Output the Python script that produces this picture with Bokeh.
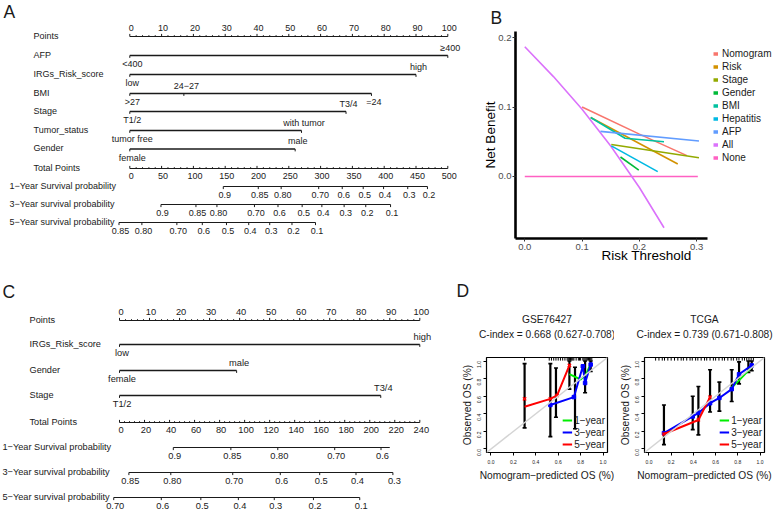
import math
from bokeh.plotting import figure
from bokeh.layouts import row, column
from bokeh.models import (Range1d, Title, Legend, LegendItem, FixedTicker,
                          PrintfTickFormatter, Slope)
from bokeh.core.properties import value
from bokeh.embed import file_html
from bokeh.resources import INLINE

FONT = "Liberation Sans"
INK = "#1a1a1a"


def fz(v):
    return f"{v:.2f}px"


# ---------------------------------------------------------------- Panel A data
A_point_ticks = [0, 10, 20, 30, 40, 50, 60, 70, 80, 90, 100]
A_vars = ["AFP", "IRGs_Risk_score", "BMI", "Stage", "Tumor_status", "Gender"]
A_levels = [["<400", "≥400"], ["low", "high"], [">27", "24−27", "=24"],
            ["T1/2", "T3/4"], ["tumor free", "with tumor"], ["female", "male"]]
A_level_points = [[0, 100], [0, 90], [0, 17, 76], [0, 68], [0, 54], [0, 52]]
A_total_ticks = [0, 50, 100, 150, 200, 250, 300, 350, 400, 450, 500]
A_surv_names = ["1−Year Survival probability", "3−Year survival probability",
                "5−Year survival probability"]
A_surv_labels = [["0.9", "0.85", "0.80", "0.70", "0.6", "0.5", "0.4", "0.3", "0.2"],
                 ["0.9", "0.85", "0.80", "0.70", "0.6", "0.5", "0.4", "0.3", "0.2", "0.1"],
                 ["0.85", "0.80", "0.70", "0.6", "0.5", "0.4", "0.3", "0.2", "0.1"]]
A_surv_total = [[147, 202, 238, 297, 334, 367, 399, 437, 468],
                [49, 104, 137, 196, 233, 271, 302, 337, 371, 410],
                [-17, 19, 74, 114, 152, 187, 220, 255, 292]]

# ---------------------------------------------------------------- Panel C data
C_point_ticks = [0, 10, 20, 30, 40, 50, 60, 70, 80, 90, 100]
C_vars = ["IRGs_Risk_score", "Gender", "Stage"]
C_levels = [["low", "high"], ["female", "male"], ["T1/2", "T3/4"]]
C_level_points = [[0, 100], [0, 39], [0, 87]]
C_total_ticks = [0, 20, 40, 60, 80, 100, 120, 140, 160, 180, 200, 220, 240]
C_surv_names = A_surv_names
C_surv_labels = [["0.9", "0.85", "0.80", "0.70", "0.6"],
                 ["0.85", "0.80", "0.70", "0.6", "0.5", "0.4", "0.3"],
                 ["0.70", "0.6", "0.5", "0.4", "0.3", "0.2", "0.1"]]
C_surv_total = [[43, 89, 126.5, 172, 209],
                [7.5, 41, 90.5, 128.5, 160, 189, 218.5],
                [-4.6, 33.4, 65, 95, 123.7, 155, 192]]
C_surv_end = [216, 218.5, 192]

# ---------------------------------------------------------------- Panel B data
B_names = ["Nomogram", "Risk", "Stage", "Gender", "BMI", "Hepatitis", "AFP", "All", "None"]
B_colors = ["#F8766D", "#D39200", "#93AA00", "#00BA38", "#00C19F", "#00B9E3",
            "#619CFF", "#DB72FB", "#FF61C3"]
B_x = [[0.10, 0.20, 0.283], [0.115, 0.267], [0.151, 0.304], [0.167, 0.199],
       [0.115, 0.175, 0.243], [0.151, 0.232], [0.132, 0.304],
       [0.0, 0.05, 0.10, 0.15, 0.20, 0.243], [0.0, 0.302]]
B_y = [[0.100, 0.061, 0.030], [0.085, 0.018], [0.046, 0.027], [0.028, 0.009],
       [0.085, 0.055, 0.050], [0.044, 0.007], [0.065, 0.051],
       [0.187, 0.144, 0.097, 0.044, -0.016, -0.074], [0.0, 0.0]]
B_xticks = [0.0, 0.1, 0.2, 0.3]
B_yticks = [0.0, 0.1, 0.2]

# ---------------------------------------------------------------- Panel D data
D_ticks = [0.0, 0.2, 0.4, 0.6, 0.8, 1.0]
D1_title = ["GSE76427", "C-index = 0.668 (0.627-0.708)"]
D1_err_x = [0.30, 0.53, 0.58, 0.70, 0.75, 0.84, 0.89]
D1_err_lo = [0.24, 0.14, 0.36, 0.68, 0.23, 0.64, 0.88]
D1_err_hi = [0.97, 0.97, 0.92, 1.00, 0.93, 1.00, 1.00]
D1_g_x = [0.70, 0.80, 0.85, 0.89]
D1_g_y = [0.85, 0.79, 0.85, 0.97]
D1_b_x = [0.53, 0.74, 0.82, 0.84, 0.89]
D1_b_y = [0.50, 0.59, 0.94, 0.75, 0.96]
D1_r_x = [0.30, 0.53, 0.59, 0.70]
D1_r_y = [0.48, 0.57, 0.61, 0.95]
D1_rx_y = [0.57, 0.57, 0.61, 0.95]
D1_rug = [0.30, 0.52, 0.54, 0.56, 0.58, 0.60, 0.62, 0.64, 0.66, 0.68, 0.69, 0.70,
          0.71, 0.72, 0.73, 0.74, 0.76, 0.78, 0.79, 0.80, 0.82, 0.83, 0.84, 0.85,
          0.86, 0.87, 0.88, 0.89, 0.90]

D2_title = ["TCGA", "C-index = 0.739 (0.671-0.808)"]
D2_err_x = [0.135, 0.394, 0.445, 0.55, 0.634, 0.745, 0.811, 0.895, 0.925]
D2_err_lo = [0.05, 0.22, 0.16, 0.42, 0.43, 0.54, 0.74, 0.87, 0.89]
D2_err_hi = [0.50, 0.60, 0.71, 0.90, 0.76, 0.90, 0.99, 1.00, 1.00]
D2_g_x = [0.745, 0.811, 0.925]
D2_g_y = [0.70, 0.78, 0.93]
D2_b_x = [0.135, 0.394, 0.445, 0.55, 0.634, 0.745, 0.811, 0.925]
D2_b_y = [0.18, 0.37, 0.41, 0.52, 0.58, 0.68, 0.85, 0.95]
D2_r_x = [0.135, 0.445, 0.55]
D2_r_y = [0.17, 0.33, 0.59]
D2_rx_y = [0.17, 0.33, 0.59]
D2_rug = [0.06, 0.09, 0.12, 0.14, 0.17, 0.20, 0.23, 0.26, 0.29, 0.31, 0.34, 0.37,
          0.39, 0.42, 0.44, 0.47, 0.50, 0.52, 0.55, 0.58, 0.60, 0.63, 0.66, 0.68,
          0.71, 0.74, 0.76, 0.79, 0.81, 0.84, 0.86, 0.88, 0.90, 0.92, 0.94]

# ---------------------------------------------------------------- sizes
HR1, HR2 = 268, 243
WA, WB = 480, 297
WC, WD1, WD2 = 452, 162, 163


def seg(p, x0, y0, x1, y1, w=1.0):
    p.segment(x0=x0, y0=y0, x1=x1, y1=y1, line_color=INK, line_width=w)


def txt(p, xs, ys, texts, size, align="center", baseline="middle", dx=0, color=INK):
    p.text(x=xs, y=ys, text=texts, text_font=value(FONT), text_font_size=value(fz(size)),
           text_align=align, text_baseline=baseline, text_color=color, x_offset=dx)


def blank_fig(width, height, xr, yr):
    p = figure(width=width, height=height, x_range=xr, y_range=yr,
               output_backend="svg", toolbar_location=None, min_border=0,
               frame_align=False)
    p.axis.visible = False
    p.grid.visible = False
    p.outline_line_color = None
    return p


def nomogram(p, px0, ppp, total_max, point_ticks, point_minor_step, vars_, levels,
             level_points, total_ticks, total_minor_step, surv_names, surv_labels,
             surv_total, surv_end, rows_y, lab_x, surv_x, fs_lab, fs_tick, letter, letter_xy):
    def rx(xref):
        return (xref - px0) / ppp

    def tp(v):
        return v * 100.0 / total_max

    # Points axis
    y = rows_y[0]
    seg(p, [point_ticks[0]], [y], [point_ticks[-1]], [y], 1.1)
    n = len(point_ticks)
    seg(p, point_ticks, [y] * n, point_ticks, [y - 2.6] * n)
    minor = [v for v in range(point_ticks[0], point_ticks[-1] + 1, point_minor_step)
             if v not in point_ticks]
    seg(p, minor, [y] * len(minor), minor, [y - 1.4] * len(minor), 0.9)
    txt(p, point_ticks, [y - 8.5] * n, [str(t) for t in point_ticks], fs_tick, dx=1.5)
    txt(p, [rx(lab_x)], [y - 1], ["Points"], fs_lab, "left")

    # variables
    for i, name in enumerate(vars_):
        y = rows_y[1 + i]
        pts = level_points[i]
        seg(p, [min(pts)], [y], [max(pts)], [y], 1.3)
        seg(p, pts, [y] * len(pts), pts, [y + 2.4] * len(pts))
        ly = [y + 8.5 if j % 2 == 0 else y - 8 for j in range(len(pts))]
        txt(p, pts, ly, levels[i], fs_tick, dx=2.5)
        txt(p, [rx(lab_x)], [y - 1], [name], fs_lab, "left")

    # total points
    y = rows_y[1 + len(vars_)]
    tx = [tp(v) for v in total_ticks]
    seg(p, [tx[0]], [y], [tx[-1]], [y], 1.1)
    seg(p, tx, [y] * len(tx), tx, [y - 2.6] * len(tx))
    tminor = [tp(v) for v in range(total_ticks[0], total_ticks[-1] + 1, total_minor_step)
              if v not in total_ticks]
    seg(p, tminor, [y] * len(tminor), tminor, [y - 1.4] * len(tminor), 0.9)
    txt(p, tx, [y + 7] * len(tx), [str(t) for t in total_ticks], fs_tick, dx=1.5)
    txt(p, [rx(lab_x)], [y - 1], ["Total Points"], fs_lab, "left")

    # survival axes
    for k in range(3):
        y = rows_y[2 + len(vars_) + k]
        sx = [tp(v) for v in surv_total[k]]
        end = tp(surv_end[k]) if surv_end is not None else sx[-1]
        seg(p, [sx[0]], [y], [end], [y], 1.1)
        seg(p, sx, [y] * len(sx), sx, [y + 2.6] * len(sx))
        txt(p, sx, [y + 8] * len(sx), surv_labels[k], fs_tick, dx=1.5)
        txt(p, [rx(surv_x)], [y - 1], [surv_names[k]], fs_lab, "left")

    txt(p, [rx(letter_xy[0])], [letter_xy[1]], [letter], 17.5, "left")


# ---------------------------------------------------------------- Panel A
A_px0, A_ppp = 129.3, 3.18
pA = blank_fig(WA, HR1, Range1d((0 - A_px0) / A_ppp, (480 - A_px0) / A_ppp), Range1d(268, 0))
nomogram(pA, A_px0, A_ppp, 500, A_point_ticks, 2, A_vars, A_levels, A_level_points,
         A_total_ticks, 10, A_surv_names, A_surv_labels, A_surv_total, None,
         [36, 55, 74, 93, 111, 130, 148.5, 168, 186, 204, 222], 33, 9, 9, 9, "A", (3, 11))

# ---------------------------------------------------------------- Panel C
C_px0, C_ppp = 119.0, 3.003
pC = blank_fig(WC, HR2, Range1d((0 - C_px0) / C_ppp, (452 - C_px0) / C_ppp), Range1d(511, 268))
nomogram(pC, C_px0, C_ppp, 240, C_point_ticks, 2, C_vars, C_levels, C_level_points,
         C_total_ticks, 4, C_surv_names, C_surv_labels, C_surv_total, C_surv_end,
         [320, 344, 370, 395, 422, 447, 472, 497], 29, 2, 9.2, 9.3, "C", (2, 291))

# ---------------------------------------------------------------- Panel B
B_x0, B_x1 = -0.0162, 0.319
B_frame_right = B_x0 + (777 - 515) / 573.0
pB = figure(width=WB, height=HR1, x_range=Range1d(B_x0, B_frame_right),
            y_range=Range1d(-0.0895, 0.209), output_backend="svg", toolbar_location=None,
            min_border_left=35, min_border_right=0, min_border_top=31, min_border_bottom=30,
            frame_align=False)
pB.grid.visible = False
pB.outline_line_color = None
order = [8, 7, 0, 1, 2, 3, 4, 5, 6]
for i in order:
    pB.line(B_x[i], B_y[i], line_color=B_colors[i], line_width=1.6)
items = []
for i, nm in enumerate(B_names):
    r = pB.line(B_x[i], B_y[i], line_color=B_colors[i], line_width=3.5, visible=False)
    items.append(LegendItem(label=nm, renderers=[r]))
for ax in (pB.xaxis[0], pB.yaxis[0]):
    ax.axis_line_width = 2.6
    ax.axis_line_color = "black"
    ax.major_tick_out = 3
    ax.major_tick_in = 0
    ax.minor_tick_out = 0
    ax.minor_tick_in = 0
    ax.major_tick_line_color = "#333333"
    ax.major_label_text_color = "#4d4d4d"
    ax.major_label_text_font = FONT
    ax.major_label_text_font_size = fz(9.5)
    ax.axis_label_text_font = FONT
    ax.axis_label_text_font_size = fz(13.5)
    ax.axis_label_text_font_style = "normal"
    ax.axis_label_text_color = "black"
    ax.formatter = PrintfTickFormatter(format="%.1f")
pB.xaxis.major_label_standoff = 2
pB.xaxis.axis_label_standoff = -5
pB.yaxis.major_label_standoff = 1
pB.yaxis.axis_label_standoff = -3
pB.xaxis.ticker = FixedTicker(ticks=B_xticks)
pB.yaxis.ticker = FixedTicker(ticks=B_yticks)
pB.xaxis.bounds = (B_x0, B_x1)
pB.xaxis.axis_label = "Risk Threshold"
pB.yaxis.axis_label = "Net Benefit"
legB = Legend(items=items, location=(198, 74), glyph_width=5, glyph_height=13,
              label_height=13, spacing=0, padding=3, margin=0, label_standoff=4,
              border_line_color=None, background_fill_alpha=0,
              inactive_fill_alpha=0,
              label_text_font=FONT, label_text_font_size=fz(10), label_text_color=INK)
pB.add_layout(legB)
pB.title.text = "B"
pB.title.align = "left"
pB.title.offset = -25
pB.title.text_font = FONT
pB.title.text_font_size = fz(17.5)
pB.title.text_font_style = "normal"
pB.title.text_color = INK
pB.title.standoff = 8


# ---------------------------------------------------------------- Panel D
def calib(width, bl, br, titles, title_dx, err_x, err_lo, err_hi, gx, gy, bx, by, rx_,
          ry, rxy, rug, letter):
    p = figure(width=width, height=HR2, x_range=Range1d(-0.04, 1.04),
               y_range=Range1d(-0.04, 1.04), output_backend="svg", toolbar_location=None,
               min_border_left=bl, min_border_right=br, min_border_top=86,
               min_border_bottom=59, frame_align=False)
    p.grid.visible = False
    p.outline_line_color = "black"
    p.outline_line_width = 1.2
    p.add_layout(Slope(gradient=1, y_intercept=0, line_color="#d4d4d4", line_width=1.5))
    for ax in (p.xaxis[0], p.yaxis[0]):
        ax.ticker = FixedTicker(ticks=D_ticks)
        ax.formatter = PrintfTickFormatter(format="%.1f")
        ax.axis_line_color = None
        ax.major_tick_out = 3
        ax.major_tick_in = 0
        ax.minor_tick_out = 0
        ax.minor_tick_in = 0
        ax.major_tick_line_color = "black"
        ax.major_label_text_font = FONT
        ax.major_label_text_font_size = fz(5)
        ax.major_label_text_color = INK
        ax.major_label_standoff = 4
        ax.axis_label_text_font = FONT
        ax.axis_label_text_font_size = fz(10.2)
        ax.axis_label_text_font_style = "normal"
        ax.axis_label_text_color = INK
    p.xaxis.axis_label_standoff = 3
    p.yaxis.axis_label_standoff = 0
    p.yaxis.major_label_orientation = math.pi / 2
    p.xaxis.axis_label = "Nomogram−predicted OS (%)"
    p.yaxis.axis_label = "Observed OS (%)"
    n = len(rug)
    p.segment(x0=rug, y0=[1.005] * n, x1=rug, y1=[1.04] * n, line_color="black", line_width=1)
    p.segment(x0=err_x, y0=err_lo, x1=err_x, y1=err_hi, line_color="black", line_width=2.2)
    p.scatter(err_x, err_lo, marker="dash", size=4, line_color="black", line_width=1.6)
    p.scatter(err_x, err_hi, marker="dash", size=4, line_color="black", line_width=1.6)
    g = p.line(gx, gy, line_color="#00ee00", line_width=2)
    b = p.line(bx, by, line_color="#0000ff", line_width=2)
    p.scatter(bx, by, marker="square", size=3.5, fill_color="#0000ff", line_color="#0000ff")
    r = p.line(rx_, ry, line_color="#ff0000", line_width=2)
    p.scatter(rx_, rxy, marker="x", size=4.5, line_color="#ff0000", line_width=1.5)
    leg = Legend(items=[LegendItem(label="1−year", renderers=[g]),
                        LegendItem(label="3−year", renderers=[b]),
                        LegendItem(label="5−year", renderers=[r])],
                 location="bottom_right", glyph_width=10, glyph_height=12, label_height=12,
                 spacing=0, padding=2, margin=2, label_standoff=2,
                 border_line_color=None, background_fill_alpha=0,
                 label_text_font=FONT, label_text_font_size=fz(10), label_text_color=INK)
    p.add_layout(leg)
    # outermost title: panel letter (or blank)
    p.title.text = letter if letter else " "
    p.title.align = "left"
    p.title.offset = -30
    p.title.text_font = FONT
    p.title.text_font_size = fz(17.5)
    p.title.text_font_style = "normal"
    p.title.text_color = INK
    p.title.standoff = 20
    # stacked from the frame outwards: spacer, C-index line, data set name
    p.add_layout(Title(text=" ", text_font_size=fz(2), standoff=13), "above")
    p.add_layout(Title(text=titles[1], align="center", offset=title_dx[1], text_font=FONT,
                       text_font_size=fz(10.2), text_font_style="normal",
                       text_color=INK, standoff=2), "above")
    p.add_layout(Title(text=titles[0], align="center", offset=title_dx[0], text_font=FONT,
                       text_font_size=fz(10.2), text_font_style="normal",
                       text_color=INK, standoff=2), "above")
    return p


pD1 = calib(WD1, 34, 7, D1_title, (-1, -6), D1_err_x, D1_err_lo, D1_err_hi, D1_g_x, D1_g_y,
            D1_b_x, D1_b_y, D1_r_x, D1_r_y, D1_rx_y, D1_rug, "D")
pD2 = calib(WD2, 30, 13, D2_title, (-2, -2), D2_err_x, D2_err_lo, D2_err_hi, D2_g_x, D2_g_y,
            D2_b_x, D2_b_y, D2_r_x, D2_r_y, D2_rx_y, D2_rug, None)

layout = column(row(pA, pB), row(pC, pD1, pD2))
open("out.html", "w").write(file_html(layout, INLINE))
